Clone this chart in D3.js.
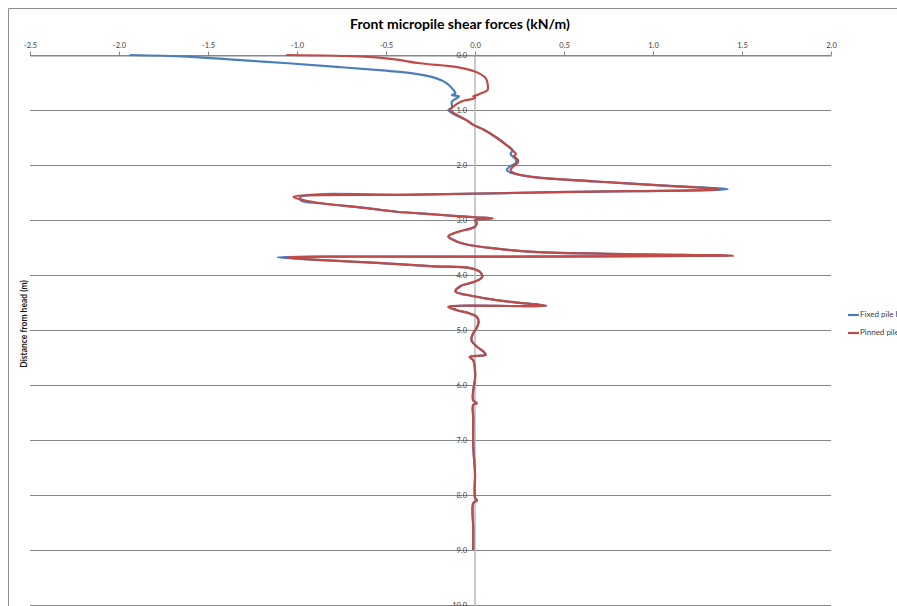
<!DOCTYPE html>
<html>
<head>
<meta charset="utf-8">
<script src="https://cdn.jsdelivr.net/npm/d3@7"></script>
<style>
  body { margin: 0; background: #fff; overflow: hidden; }
  text { font-family: Lato, "Open Sans", sans-serif; }
</style>
</head>
<body>
<script>
const width = 897;
const height = 606;

// depth below pile head (m)
const depth = [
  0, 0.03, 0.08, 0.15, 0.22, 0.28, 0.33, 0.42, 0.51, 0.64,
  0.70, 0.73, 0.75, 0.78, 0.85, 0.96, 1.00, 1.09, 1.18, 1.27,
  1.36, 1.50, 1.62, 1.73, 1.80, 1.84, 1.90, 1.96, 2.04, 2.10,
  2.16, 2.22, 2.30, 2.38, 2.44, 2.49, 2.54, 2.58, 2.64, 2.70,
  2.78, 2.85, 2.90, 2.93, 2.95, 2.97, 3.00, 3.05, 3.12, 3.22,
  3.30, 3.38, 3.45, 3.52, 3.58, 3.62, 3.65, 3.665, 3.68, 3.72,
  3.78, 3.84, 3.88, 3.95, 4.04, 4.12, 4.20, 4.30, 4.36, 4.42,
  4.49, 4.56, 4.58, 4.64, 4.70, 4.76, 4.86, 4.96, 5.06, 5.18,
  5.30, 5.40, 5.45, 5.49, 5.55, 5.73, 5.90, 6.10, 6.28, 6.33,
  6.36, 6.60, 7.10, 7.60, 8.05, 8.10, 8.15, 8.60, 9.00
];

// shear force (kN/m), fixed pile head
const fixedHead = [
  -1.94, -1.62, -1.38, -1.05, -0.76, -0.52, -0.36, -0.22, -0.16, -0.12,
  -0.11, -0.13, -0.09, -0.10, -0.13, -0.13, -0.15, -0.11, -0.05, -0.01,
  0.05, 0.12, 0.17, 0.21, 0.20, 0.21, 0.23, 0.23, 0.19, 0.18,
  0.22, 0.33, 0.68, 1.10, 1.42, 0.57, -0.33, -0.98, -0.98, -0.86,
  -0.62, -0.44, -0.22, -0.10, 0.00, 0.10, 0.00, 0.01, 0.00, -0.10,
  -0.15, -0.11, -0.04, 0.12, 0.33, 0.84, 1.42, 0.15, -1.11, -0.92,
  -0.55, -0.25, -0.02, 0.03, 0.04, 0.00, -0.08, -0.11, -0.05, 0.05,
  0.20, 0.40, -0.15, -0.10, -0.03, 0.01, 0.02, 0.01, -0.01, -0.02,
  0.01, 0.05, 0.06, -0.03, -0.01, 0.00, 0.00, -0.01, -0.01, 0.01,
  -0.01, -0.01, -0.01, 0.00, 0.00, 0.01, -0.01, -0.01, -0.01
];

// shear force (kN/m), pinned pile head
const pinnedHead = [
  -1.06, -0.62, -0.45, -0.31, -0.10, -0.02, 0.02, 0.06, 0.07, 0.07,
  0.03, 0.01, -0.01, 0.00, -0.08, -0.13, -0.14, -0.10, -0.05, -0.01,
  0.05, 0.12, 0.17, 0.21, 0.23, 0.22, 0.24, 0.24, 0.21, 0.20,
  0.23, 0.33, 0.68, 1.08, 1.37, 0.52, -0.34, -1.02, -0.96, -0.85,
  -0.62, -0.44, -0.22, -0.10, 0.00, 0.10, 0.00, 0.01, 0.00, -0.10,
  -0.15, -0.11, -0.04, 0.12, 0.33, 0.85, 1.45, 0.20, -1.07, -0.90,
  -0.55, -0.25, -0.02, 0.03, 0.04, 0.00, -0.08, -0.11, -0.05, 0.05,
  0.20, 0.40, -0.15, -0.10, -0.03, 0.01, 0.02, 0.01, -0.01, -0.02,
  0.01, 0.05, 0.06, -0.03, -0.01, 0.00, 0.00, -0.01, -0.01, 0.01,
  -0.01, -0.01, -0.01, 0.00, 0.00, 0.01, -0.01, -0.01, -0.01
];

const xTicks = [-2.5, -2.0, -1.5, -1.0, -0.5, 0.0, 0.5, 1.0, 1.5, 2.0];
const yTicks = [0, 1, 2, 3, 4, 5, 6, 7, 8, 9, 10];
const seriesNames = ["Fixed pile head", "Pinned pile head"];
const colors = ["#4a7ebb", "#be4b48"];

const svg = d3.select("body").append("svg")
    .attr("width", width)
    .attr("height", height);

// chart area border (bottom and right run off the picture)
svg.append("path")
    .attr("d", `M8.5,${height} V8.5 H${width}`)
    .attr("fill", "none")
    .attr("stroke", "#8c8c8c");

const x = d3.scaleLinear().domain([-2.5, 2.0]).range([30, 831]);
const y = d3.scaleLinear().domain([0, 10]).range([55, 605]);

// horizontal gridlines
svg.append("g")
    .selectAll("line")
    .data(yTicks)
    .join("line")
    .attr("x1", x(-2.5))
    .attr("x2", x(2.0))
    .attr("y1", d => Math.round(y(d)) + 0.5)
    .attr("y2", d => Math.round(y(d)) + 0.5)
    .attr("stroke", "#868686")
    .attr("stroke-width", 1);

// vertical axis at zero
svg.append("line")
    .attr("x1", x(0)).attr("x2", x(0))
    .attr("y1", y(0)).attr("y2", height)
    .attr("stroke", "#bdbdbd")
    .attr("stroke-width", 1.6);

// top axis
const xAxis = svg.append("g")
    .attr("transform", `translate(0,${Math.round(y(0)) + 0.5})`)
    .call(d3.axisTop(x).tickValues(xTicks).tickFormat(d => d.toFixed(1))
        .tickSizeInner(4).tickSizeOuter(0).tickPadding(4));
xAxis.select(".domain").attr("stroke", "#868686");
xAxis.selectAll(".tick line").attr("stroke", "#868686");
xAxis.selectAll(".tick text")
    .attr("font-family", "Lato, sans-serif")
    .attr("font-size", 7.5)
    .attr("fill", "#404040");

// depth labels beside the zero axis
svg.append("g")
    .selectAll("text")
    .data(yTicks)
    .join("text")
    .attr("x", x(0) - 8)
    .attr("y", d => y(d) + 1.5)
    .attr("text-anchor", "end")
    .attr("dominant-baseline", "middle")
    .attr("font-size", 7.5)
    .attr("fill", "#404040")
    .text(d => d.toFixed(1));

// series
const line = d3.line()
    .x(d => x(d[0]))
    .y(d => y(d[1]))
    .curve(d3.curveCatmullRom.alpha(0.5));

[fixedHead, pinnedHead].forEach((vals, i) => {
    svg.append("path")
        .datum(vals.map((v, j) => [v, depth[j]]))
        .attr("d", line)
        .attr("fill", "none")
        .attr("stroke", colors[i])
        .attr("stroke-width", 2.2)
        .attr("stroke-linejoin", "round");
});

// title
svg.append("text")
    .attr("x", 460)
    .attr("y", 29)
    .attr("text-anchor", "middle")
    .attr("font-size", 14)
    .attr("font-weight", "bold")
    .attr("fill", "#000")
    .text("Front micropile shear forces (kN/m)");

// y axis title
svg.append("text")
    .attr("transform", "translate(27,324) rotate(-90)")
    .attr("text-anchor", "middle")
    .attr("font-size", 8.5)
    .attr("font-weight", "bold")
    .attr("fill", "#1a1a1a")
    .text("Distance from head (m)");

// legend (runs off the right edge, as in the original)
const legend = svg.append("g")
    .attr("transform", "translate(848,315)");
legend.selectAll("g")
    .data(seriesNames)
    .join("g")
    .attr("transform", (d, i) => `translate(0,${i * 18})`)
    .each(function (d, i) {
        const g = d3.select(this);
        g.append("line")
            .attr("x1", 0).attr("x2", 11)
            .attr("stroke", colors[i])
            .attr("stroke-width", 2.2);
        g.append("text")
            .attr("x", 12)
            .attr("dominant-baseline", "middle")
            .attr("font-size", 8)
            .attr("fill", "#404040")
            .text(d);
    });
</script>
</body>
</html>
